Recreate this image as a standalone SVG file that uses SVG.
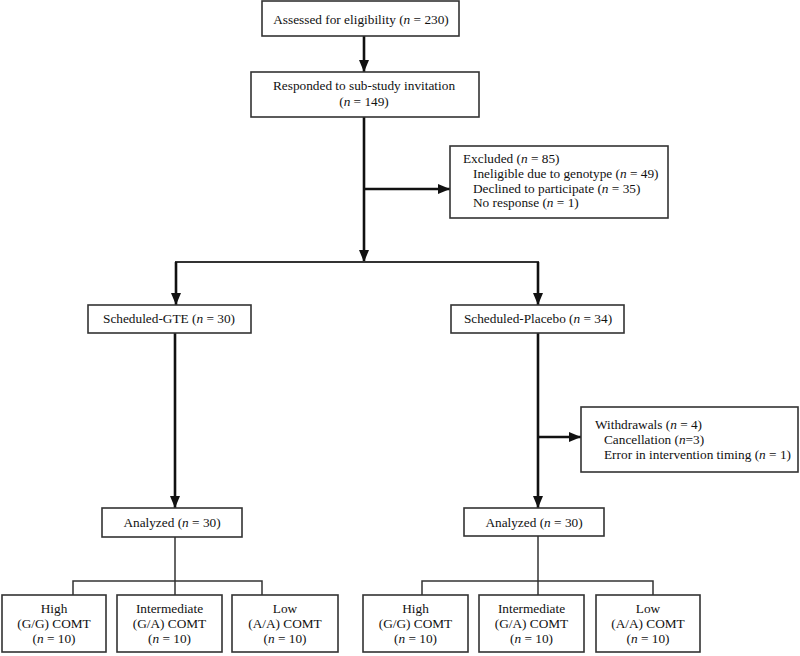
<svg xmlns="http://www.w3.org/2000/svg" width="800" height="656" viewBox="0 0 800 656">
<style>
.box{fill:#fff;stroke:#333;stroke-width:1.6}
text{font-family:"Liberation Serif","Times New Roman",serif;font-size:13.3px;fill:#111}
.c{text-anchor:middle}
.thick{stroke:#111;stroke-width:2.6;fill:none}
.mid{stroke:#333;stroke-width:2;fill:none}
.thin{stroke:#333;stroke-width:1.5;fill:none}
</style>
<defs>
<marker id="ah" markerUnits="userSpaceOnUse" markerWidth="12" markerHeight="12" viewBox="0 0 12 12" refX="12" refY="6" orient="auto">
<path d="M0,1 L12,6 L0,11 z" fill="#111"/>
</marker>
</defs>
<rect width="800" height="656" fill="#fff"/>
<g id="connectors">
<line class="thick" x1="364" y1="36" x2="364" y2="72" marker-end="url(#ah)"/>
<line class="thick" x1="364" y1="117" x2="364" y2="262" marker-end="url(#ah)"/>
<line class="thick" x1="364" y1="189" x2="450" y2="189" marker-end="url(#ah)"/>
<line class="mid" x1="175" y1="262" x2="539" y2="262"/>
<line class="thick" x1="176" y1="262" x2="176" y2="305" marker-end="url(#ah)"/>
<line class="thick" x1="538" y1="262" x2="538" y2="305" marker-end="url(#ah)"/>
<line class="thick" x1="175" y1="333" x2="175" y2="508" marker-end="url(#ah)"/>
<line class="thick" x1="538" y1="333" x2="538" y2="508" marker-end="url(#ah)"/>
<line class="thick" x1="538" y1="437" x2="581" y2="437" marker-end="url(#ah)"/>
<line class="thin" x1="175" y1="537" x2="175" y2="595"/>
<polyline class="thin" points="73,595 73,581 262,581 262,595"/>
<line class="thin" x1="538" y1="536" x2="538" y2="595"/>
<polyline class="thin" points="422,595 422,581 653,581 653,595"/>
</g>
<g id="assessed">
<rect class="box" x="262" y="1" width="197" height="35"/>
<text class="c" x="361" y="24">Assessed for eligibility (<tspan font-style="italic">n</tspan> = 230)</text>
</g>
<g id="responded">
<rect class="box" x="251" y="72" width="228" height="45"/>
<text class="c" x="364" y="90">Responded to sub-study invitation</text>
<text class="c" x="364" y="106">(<tspan font-style="italic">n</tspan> = 149)</text>
</g>
<g id="excluded">
<rect class="box" x="450" y="146" width="218" height="72"/>
<text x="463" y="163">Excluded (<tspan font-style="italic">n</tspan> = 85)</text>
<text x="473" y="178">Ineligible due to genotype (<tspan font-style="italic">n</tspan> = 49)</text>
<text x="473" y="193">Declined to participate (<tspan font-style="italic">n</tspan> = 35)</text>
<text x="473" y="207">No response (<tspan font-style="italic">n</tspan> = 1)</text>
</g>
<g id="sched-gte">
<rect class="box" x="88" y="305" width="163" height="28"/>
<text class="c" x="169" y="323">Scheduled-GTE (<tspan font-style="italic">n</tspan> = 30)</text>
</g>
<g id="sched-placebo">
<rect class="box" x="451" y="305" width="173" height="28"/>
<text class="c" x="538" y="323">Scheduled-Placebo (<tspan font-style="italic">n</tspan> = 34)</text>
</g>
<g id="withdrawals">
<rect class="box" x="581" y="407" width="217" height="65"/>
<text x="595" y="429">Withdrawals (<tspan font-style="italic">n</tspan> = 4)</text>
<text x="604" y="444">Cancellation (<tspan font-style="italic">n</tspan>=3)</text>
<text x="604" y="459">Error in intervention timing (<tspan font-style="italic">n</tspan> = 1)</text>
</g>
<g id="analyzed-gte">
<rect class="box" x="102" y="508" width="140" height="29"/>
<text class="c" x="172" y="527">Analyzed (<tspan font-style="italic">n</tspan> = 30)</text>
</g>
<g id="analyzed-placebo">
<rect class="box" x="464" y="508" width="140" height="28"/>
<text class="c" x="534" y="527">Analyzed (<tspan font-style="italic">n</tspan> = 30)</text>
</g>
<g id="gte-high">
<rect class="box" x="2" y="595" width="104" height="57"/>
<text class="c" x="54" y="613">High</text>
<text class="c" x="54" y="628">(G/G) COMT</text>
<text class="c" x="54" y="643">(<tspan font-style="italic">n</tspan> = 10)</text>
</g>
<g id="gte-intermediate">
<rect class="box" x="117" y="595" width="105" height="57"/>
<text class="c" x="169.5" y="613">Intermediate</text>
<text class="c" x="169.5" y="628">(G/A) COMT</text>
<text class="c" x="169.5" y="643">(<tspan font-style="italic">n</tspan> = 10)</text>
</g>
<g id="gte-low">
<rect class="box" x="232" y="595" width="106" height="57"/>
<text class="c" x="285" y="613">Low</text>
<text class="c" x="285" y="628">(A/A) COMT</text>
<text class="c" x="285" y="643">(<tspan font-style="italic">n</tspan> = 10)</text>
</g>
<g id="placebo-high">
<rect class="box" x="363" y="595" width="105" height="57"/>
<text class="c" x="415.5" y="613">High</text>
<text class="c" x="415.5" y="628">(G/G) COMT</text>
<text class="c" x="415.5" y="643">(<tspan font-style="italic">n</tspan> = 10)</text>
</g>
<g id="placebo-intermediate">
<rect class="box" x="479" y="595" width="105" height="57"/>
<text class="c" x="531.5" y="613">Intermediate</text>
<text class="c" x="531.5" y="628">(G/A) COMT</text>
<text class="c" x="531.5" y="643">(<tspan font-style="italic">n</tspan> = 10)</text>
</g>
<g id="placebo-low">
<rect class="box" x="596" y="595" width="104" height="57"/>
<text class="c" x="648" y="613">Low</text>
<text class="c" x="648" y="628">(A/A) COMT</text>
<text class="c" x="648" y="643">(<tspan font-style="italic">n</tspan> = 10)</text>
</g>
</svg>
